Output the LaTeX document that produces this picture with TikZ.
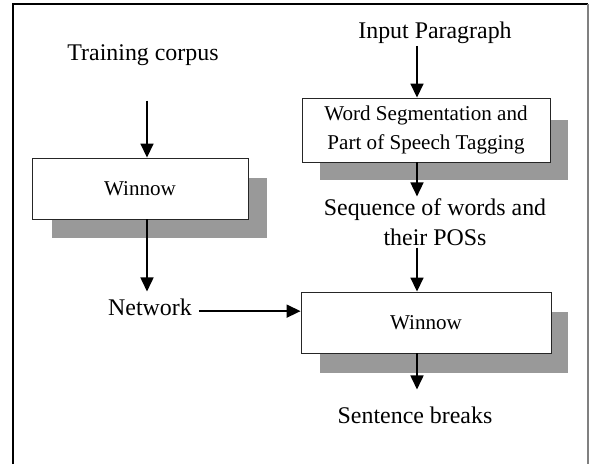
\documentclass[tikz,border=0pt]{standalone}
\usepackage{fontspec}
\setmainfont{Liberation Serif}
\usetikzlibrary{arrows.meta}
\definecolor{ShadowGray}{HTML}{999999}
\definecolor{FrameGray}{HTML}{808080}

\begin{document}
\begin{tikzpicture}[x=0.02cm, y=-0.02cm,
    stepbox/.style={draw=black!85, fill=white, line width=0.5pt, align=center, font=\fontsize{12}{16.5}\selectfont},
    shadowbox/.style={fill=ShadowGray, draw=none, inner sep=0pt},
    textlabel/.style={inner sep=1pt, align=center, font=\fontsize{13.6}{17}\selectfont},
    flow/.style={-{Triangle[length=8pt, width=7.4pt]}, line width=1pt}]
                \useasboundingbox (0,0) rectangle (589,464);
                
                % Frame
                \draw[line width=1pt] (13,464) -- (13,4) -- (588,4);
                \draw[FrameGray, line width=0.6pt] (588,4) -- (588,464);
                
                % Shadows
                \node[shadowbox, minimum width=4.32cm, minimum height=1.2cm] (w1s) at (159.5,207.5) {};
                \node[shadowbox, minimum width=4.96cm, minimum height=1.2cm] (wss) at (444,150) {};
                \node[shadowbox, minimum width=4.96cm, minimum height=1.22cm] (w3s) at (444,342.5) {};
                
                % Steps
                \node[stepbox, minimum width=4.32cm, minimum height=1.22cm] (w1) at (140,188.5) {Winnow};
                \node[stepbox, minimum width=4.96cm, minimum height=1.28cm] (ws) at (426,130) {Word Segmentation and\\Part of Speech Tagging};
                \node[stepbox, minimum width=5cm, minimum height=1.22cm] (w3) at (426,322.5) {Winnow};
                
                % Labels
                \node[textlabel] (corpus) at (143,55) {Training corpus};
                \node[textlabel] (input) at (435,33) {Input Paragraph};
                \node[textlabel] (seq) at (435,222) {Sequence of words and\\their POSs};
                \node[textlabel] (net) at (150,307) {Network};
                \node[textlabel] (breaks) at (415,415) {Sentence breaks};
                
                % Arrows
                \coordinate (lx) at (147,0);
                \coordinate (rx) at (417,0);
                \draw[flow, shorten <=0.66cm] (corpus.south -| lx) -- (w1.north -| lx);
                \draw[flow, shorten >=0.1cm] (w1.south -| lx) -- (net.north -| lx);
                \draw[flow, shorten <=0.1cm] (net.mid east) -- (net.mid east -| w3.west);
                \draw[flow] (input.south -| rx) -- (ws.north -| rx);
                \draw[flow] (ws.south -| rx) -- (seq.north -| rx);
                \draw[flow] (seq.south -| rx) -- (w3.north -| rx);
                \draw[flow, shorten >=0.3cm] (w3.south -| rx) -- (breaks.north -| rx);
\end{tikzpicture}
\end{document}
